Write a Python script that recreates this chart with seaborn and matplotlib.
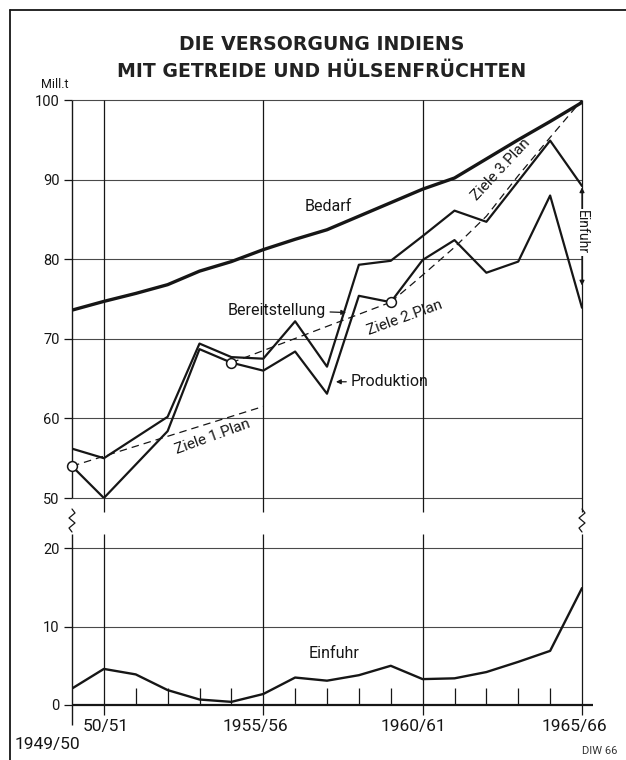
import matplotlib
matplotlib.use("Agg")
import matplotlib.pyplot as plt
from matplotlib.lines import Line2D
import numpy as np
import pandas as pd
import seaborn as sns

# ---------------- data ----------------
year_idx = list(range(17))  # 0 = 1949/50 ... 16 = 1965/66
bedarf = [73.6, 74.7, 75.7, 76.8, 78.5, 79.7, 81.2, 82.5, 83.7, 85.4, 87.1,
          88.8, 90.2, 92.6, 95.0, 97.3, 99.7]
bereitstellung = [56.2, 55.0, 57.6, 60.2, 69.4, 67.7, 67.5, 72.2, 66.5, 79.3,
                  79.8, 82.9, 86.1, 84.7, 89.8, 94.9, 89.2]
produktion = [54.0, 50.0, 54.2, 58.4, 68.7, 67.0, 66.0, 68.4, 63.1, 75.4, 74.6,
              79.9, 82.4, 78.3, 79.7, 88.0, 73.9]
einfuhr = [2.1, 4.6, 3.9, 1.9, 0.7, 0.4, 1.4, 3.5, 3.1, 3.8, 5.0, 3.3, 3.4,
           4.2, 5.5, 6.9, 14.9]
plan1_x = [0, 6]
plan1_y = [54.0, 61.5]
plan2_x = [5, 10]
plan2_y = [67.0, 74.6]
plan3_x = [10, 11, 12, 13, 14, 15, 16]
plan3_y = [74.6, 78.0, 81.5, 85.4, 90.5, 95.3, 100.0]
circle_x = [0, 5, 10]
circle_y = [54.0, 67.0, 74.6]
upper_ticks = [50, 60, 70, 80, 90, 100]
lower_ticks = [0, 10, 20]
major_years = [1, 6, 11, 16]
major_labels = ["50/51", "1955/56", "1960/61", "1965/66"]
first_label = "1949/50"

df = pd.DataFrame({"jahr": year_idx, "Bedarf": bedarf,
                   "Bereitstellung": bereitstellung,
                   "Produktion": produktion, "Einfuhr": einfuhr})

# ---------------- style ----------------
sns.set_style("white")
plt.rcParams['font.family'] = ['Roboto', 'DejaVu Sans']
INK = "#161616"
GRID = "#4a4a4a"

W, H = 626, 760
fig = plt.figure(figsize=(W / 100, H / 100), dpi=100)


def fx(px):
    return px / W


def fy(py):
    return 1 - py / H


ax1 = fig.add_axes([fx(72), fy(498), (582 - 72) / W, (498 - 100) / H])
ax2 = fig.add_axes([fx(72), fy(705), (582 - 72) / W, (705 - 534) / H])

for ax in (ax1, ax2):
    for s in ax.spines.values():
        s.set_visible(False)
    ax.set_xlim(0, 16)
    ax.set_xticks([])
    ax.set_facecolor("none")

ax1.set_ylim(50, 100)
ax2.set_ylim(0, 21.8)

# grid lines upper
ax1.hlines(upper_ticks, 0, 16, color=GRID, lw=0.8, zorder=1, clip_on=False)
ax1.vlines([0], 50, 100, color=INK, lw=1.0, zorder=1, clip_on=False)
ax1.vlines(major_years, 48.3, 100, color=INK, lw=0.9, zorder=1, clip_on=False)
# grid lines lower
ax2.hlines([10, 20], 0, 16, color=GRID, lw=0.8, zorder=1)
ax2.hlines([0], 0, 16.35, color=INK, lw=1.6, zorder=2, clip_on=False)
ax2.vlines([0], -2.6, 21.8, color=INK, lw=1.0, zorder=1, clip_on=False)
ax2.vlines(major_years, -1.3, 21.8, color=INK, lw=0.9, zorder=1, clip_on=False)
minor = [i for i in year_idx if i not in major_years and i != 0]
ax2.vlines(minor, 0, 2.2, color=INK, lw=0.9, zorder=1)

ax1.set_yticks(upper_ticks)
ax2.set_yticks(lower_ticks)
for ax in (ax1, ax2):
    ax.tick_params(axis="y", length=6, width=0.9, pad=3, labelsize=10.5,
                   color=INK, labelcolor=INK, left=True)

# series
sns.lineplot(data=df, x="jahr", y="Bedarf", ax=ax1, color=INK, linewidth=2.4,
             zorder=3)
sns.lineplot(data=df, x="jahr", y="Bereitstellung", ax=ax1, color=INK,
             linewidth=1.6, zorder=3)
sns.lineplot(data=df, x="jahr", y="Produktion", ax=ax1, color=INK,
             linewidth=1.6, zorder=3)
for px_, py_ in ((plan1_x, plan1_y), (plan2_x, plan2_y), (plan3_x, plan3_y)):
    sns.lineplot(x=px_, y=py_, ax=ax1, color=INK, linewidth=0.9, zorder=2)
    ax1.lines[-1].set_dashes((6, 4))
sns.scatterplot(x=circle_x, y=circle_y, ax=ax1, s=50, facecolor="white",
                edgecolor=INK, linewidth=1.1, zorder=6, clip_on=False)
sns.lineplot(data=df, x="jahr", y="Einfuhr", ax=ax2, color=INK, linewidth=1.7,
             zorder=3)
for ax in (ax1, ax2):
    ax.set_xlabel("")
    ax.set_ylabel("")
    if ax.get_legend():
        ax.get_legend().remove()

# annotations upper
TF = 11.5
ax1.text(8.03, 86.6, "Bedarf", ha="center", va="center", fontsize=TF, color=INK)
ax1.annotate("Bereitstellung", xy=(8.6, 73.3), xytext=(7.95, 73.6),
             ha="right", va="center", fontsize=TF, color=INK,
             arrowprops=dict(arrowstyle="-|>", color=INK, lw=0.9,
                             shrinkA=1, shrinkB=0, mutation_scale=7))
ax1.annotate("Produktion", xy=(8.28, 64.6), xytext=(8.75, 64.6),
             ha="left", va="center", fontsize=TF, color=INK,
             arrowprops=dict(arrowstyle="-|>", color=INK, lw=0.9,
                             shrinkA=1, shrinkB=0, mutation_scale=7))
ax1.text(4.42, 57.7, "Ziele 1.Plan", ha="center", va="center", fontsize=11,
         rotation=20, color=INK, rotation_mode="anchor")
ax1.text(10.45, 72.6, "Ziele 2.Plan", ha="center", va="center", fontsize=11,
         rotation=20, color=INK, rotation_mode="anchor")
ax1.text(13.45, 91.3, "Ziele 3.Plan", ha="center", va="center", fontsize=11,
         rotation=47, color=INK, rotation_mode="anchor")
ax1.annotate("", xy=(16, bereitstellung[16]), xytext=(16, produktion[16]),
             arrowprops=dict(arrowstyle="<|-|>", color=INK, lw=0.9,
                             shrinkA=16, shrinkB=1, mutation_scale=7),
             annotation_clip=False)
ax1.text(16, 83.4, "Einfuhr", ha="center", va="center", fontsize=10,
         rotation=-90, color=INK,
         bbox=dict(facecolor="white", edgecolor="none", pad=1.0), zorder=7)

# annotations lower
ax2.text(8.22, 6.6, "Einfuhr", ha="center", va="center", fontsize=TF, color=INK)

# x labels
for xi, lab, cx in zip(major_years, major_labels, [106, 255, 413, 574]):
    fig.text(fx(cx), fy(727), lab, ha="center", va="center", fontsize=12.5,
             color=INK)
fig.text(fx(47), fy(745), first_label, ha="center", va="center", fontsize=12.5,
         color=INK)

# title and misc
fig.text(fx(322), fy(44.5), "DIE VERSORGUNG INDIENS", ha="center", va="center",
         fontsize=13.6, fontweight="bold", color="#222222", family="DejaVu Sans")
fig.text(fx(322), fy(71.5), "MIT GETREIDE UND HÜLSENFRÜCHTEN", ha="center",
         va="center", fontsize=13.6, fontweight="bold", color="#222222",
         family="DejaVu Sans")
fig.text(fx(55), fy(85), "Mill.t", ha="center", va="center", fontsize=9,
         color=INK)
fig.text(fx(600), fy(751), "DIW 66", ha="center", va="center", fontsize=8,
         color="#333333")

# break marks
for x0 in (72, 582):
    pts = [(x0, 509), (x0 + 3, 513), (x0 - 3, 518), (x0 + 3, 523),
           (x0 - 3, 528), (x0, 532)]
    fig.add_artist(Line2D([fx(p[0]) for p in pts], [fy(p[1]) for p in pts],
                          color=INK, lw=0.9, transform=fig.transFigure))

# frame
fig.add_artist(Line2D([fx(10), fx(10)], [fy(10), fy(760)], color=INK, lw=1.3,
                      transform=fig.transFigure))
fig.add_artist(Line2D([fx(10), fx(626)], [fy(10), fy(10)], color=INK, lw=1.3,
                      transform=fig.transFigure))

fig.savefig("out.png", dpi=100, facecolor="white")
